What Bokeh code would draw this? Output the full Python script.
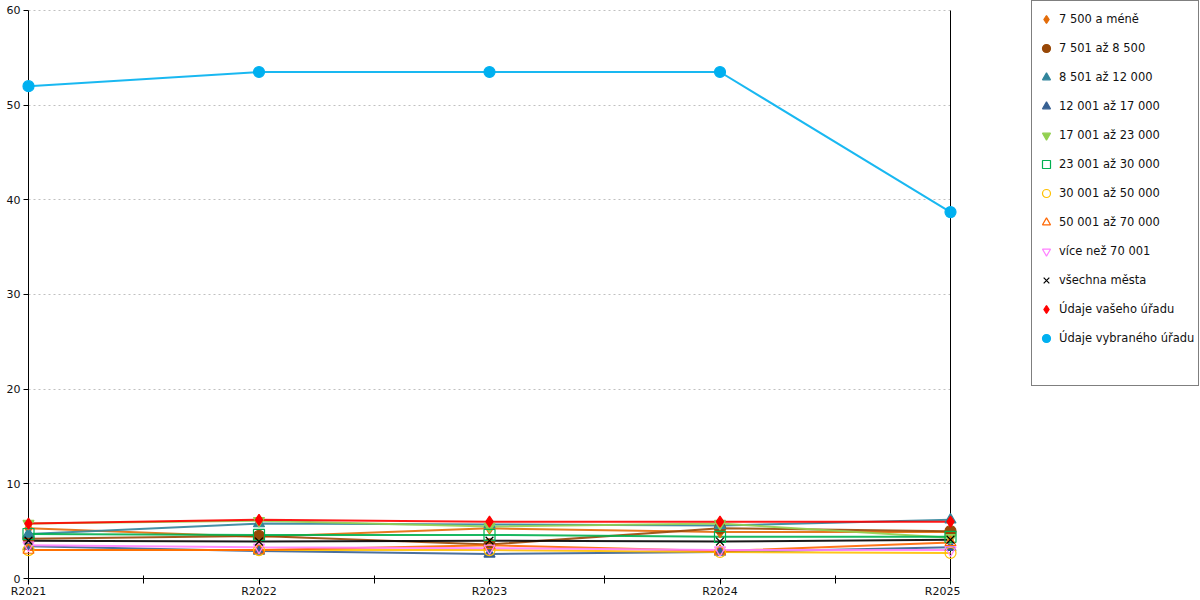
from bokeh.plotting import figure
from bokeh.models import FixedTicker, LinearAxis, Legend, LegendItem, Range1d
from bokeh.layouts import row
from bokeh.embed import file_html
from bokeh.resources import INLINE

categories = ["R2021", "R2022", "R2023", "R2024", "R2025"]

names = ["7 500 a méně", "7 501 až 8 500", "8 501 až 12 000", "12 001 až 17 000",
         "17 001 až 23 000", "23 001 až 30 000", "30 001 až 50 000", "50 001 až 70 000",
         "více než 70 001", "všechna města", "Údaje vašeho úřadu", "Údaje vybraného úřadu"]

s_7500 = [5.3, 4.4, 5.3, 4.9, 4.9]
s_8500 = [4.2, 4.5, 3.6, 5.3, 5.0]
s_12000 = [4.7, 5.8, 5.7, 5.6, 6.2]
s_17000 = [3.4, 2.9, 2.6, 2.8, 3.3]
s_23000 = [5.8, 6.1, 5.5, 5.8, 4.3]
s_30000 = [4.7, 4.6, 4.6, 4.4, 4.4]
s_50000 = [3.0, 3.0, 3.0, 2.8, 2.7]
s_70000 = [3.0, 3.0, 3.5, 2.9, 3.8]
s_70001 = [3.5, 3.3, 3.2, 3.0, 3.0]
s_vsechna = [4.0, 3.9, 4.0, 3.9, 4.1]
s_vaseho = [5.8, 6.2, 6.0, 6.0, 6.0]
s_vybraneho = [52.0, 53.5, 53.5, 53.5, 38.7]

y_ticks = [0, 10, 20, 30, 40, 50, 60]

series = [s_7500, s_8500, s_12000, s_17000, s_23000, s_30000, s_50000,
          s_70000, s_70001, s_vsechna, s_vaseho, s_vybraneho]
colors = ["#e36c09", "#984807", "#31849b", "#376092", "#92d050", "#00b050",
          "#ffc000", "#ff6600", "#ff80ff", "#000000", "#ff0000", "#00b0f0"]
markers = ["diamond", "circle", "triangle", "triangle", "inverted_triangle", "square",
           "circle", "triangle", "inverted_triangle", "x", "diamond", "circle"]
filled = [True, True, True, True, True, False, False, False, False, False, True, True]

xs = list(range(len(categories)))
font = "DejaVu Sans"

# ---- main chart ----
p = figure(width=960, height=600, output_backend="svg", toolbar_location=None,
           x_range=Range1d(xs[0], xs[-1]), y_range=Range1d(y_ticks[0], 61.05),
           min_border_left=28, min_border_right=10, min_border_top=0, min_border_bottom=18)
p.outline_line_color = None
p.xgrid.visible = False
p.ygrid.grid_line_color = "#c0c0c0"
p.ygrid.grid_line_dash = "2 3"
p.ygrid.ticker = FixedTicker(ticks=y_ticks)

p.yaxis.ticker = FixedTicker(ticks=y_ticks)
p.yaxis.bounds = (y_ticks[0], y_ticks[-1])
p.yaxis.major_tick_out = 5
p.yaxis.major_tick_in = 0
p.yaxis.minor_tick_line_color = None
p.yaxis.major_label_standoff = 3
p.xaxis.ticker = FixedTicker(ticks=xs, minor_ticks=[x + 0.5 for x in xs[:-1]])
p.xaxis.major_label_overrides = {x: c for x, c in zip(xs, categories)}
p.xaxis.major_tick_out = 6
p.xaxis.major_tick_in = 0
p.xaxis.minor_tick_in = 3
p.xaxis.minor_tick_out = 5
p.xaxis.major_label_standoff = 0
for ax in (p.xaxis, p.yaxis):
    ax.axis_line_color = "black"
    ax.major_tick_line_color = "black"
    ax.major_label_text_font = font
    ax.major_label_text_font_size = "11px"
    ax.major_label_text_color = "#111111"
p.xaxis.minor_tick_line_color = "black"

right = LinearAxis(ticker=FixedTicker(ticks=[]), major_tick_line_color=None,
                   minor_tick_line_color=None, major_label_text_alpha=0,
                   major_tick_out=0, major_tick_in=0, major_label_standoff=0,
                   axis_line_color="black", bounds=(y_ticks[0], y_ticks[-1]))
p.add_layout(right, "right")

for ys, col, mk, fl in zip(series, colors, markers, filled):
    p.line(xs, ys, line_color=col, line_width=2, line_alpha=0.9, level="overlay")
for ys, col, mk, fl in zip(series, colors, markers, filled):
    p.scatter(xs, ys, marker=mk, size=11, line_color=col, line_width=1.2,
              fill_color=col if fl else "white", fill_alpha=1 if fl else 0,
              level="overlay")

# ---- legend panel (its renderers hold the same data, outside the visible range) ----
lg = figure(width=240, height=600, output_backend="svg", toolbar_location=None,
            x_axis_type=None, y_axis_type=None,
            x_range=Range1d(-20, -10), y_range=Range1d(-20, -10),
            min_border=0, min_border_left=71, min_border_right=0,
            min_border_top=0, min_border_bottom=0)
lg.outline_line_color = None
lg.grid.visible = False

items = []
for name, ys, col, mk, fl in zip(names, series, colors, markers, filled):
    r = lg.scatter(xs, ys, marker=mk, line_color=col, line_width=1.2,
                   fill_color=col if fl else "white", fill_alpha=1 if fl else 0)
    items.append(LegendItem(label=name, renderers=[r]))
dummy = lg.scatter(xs, s_vsechna, alpha=0)
items.append(LegendItem(label=" ", renderers=[dummy]))

legend = Legend(items=items, location="top_left", orientation="vertical",
                glyph_width=20, glyph_height=28, label_height=28, spacing=1,
                padding=4, margin=0, label_standoff=3,
                label_text_font=font, label_text_font_size="11.5px",
                label_text_color="#111111",
                border_line_color="black", border_line_width=1,
                background_fill_color="white", background_fill_alpha=1)
lg.add_layout(legend, "center")

layout = row(p, lg, spacing=0)
open("out.html", "w").write(file_html(layout, INLINE))
